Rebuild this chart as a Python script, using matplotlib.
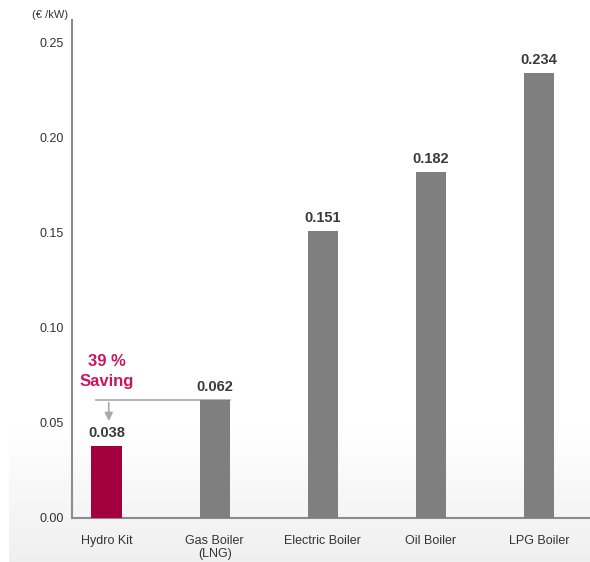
import numpy as np
import matplotlib.pyplot as plt

plt.rcParams['font.family'] = ['Liberation Sans', 'DejaVu Sans']

# data
categories = ['Hydro Kit', 'Gas Boiler\n(LNG)', 'Electric Boiler', 'Oil Boiler', 'LPG Boiler']
costs = [0.038, 0.062, 0.151, 0.182, 0.234]
bar_colors = ['#a3003f', '#7f7f7f', '#7f7f7f', '#7f7f7f', '#7f7f7f']
yticks = [0.00, 0.05, 0.10, 0.15, 0.20, 0.25]

fig = plt.figure(figsize=(5.9, 5.62), dpi=100)

# light grey photo-like background at the bottom
bg = fig.add_axes([0, 0, 1, 1], zorder=-10)
grad = np.linspace(0.13, 0.0, 100)[:, None] * np.ones((1, 50))
bg.imshow(grad, cmap='Greys', vmin=0, vmax=1, aspect='auto',
          extent=[0.015, 1, 0, 0.24], origin='lower')
bg.set_xlim(0, 1)
bg.set_ylim(0, 1)
bg.axis('off')

ax = fig.add_axes([72 / 590, 1 - 518 / 562, 518 / 590, 498 / 562])
ax.patch.set_alpha(0)

x = np.arange(len(categories))
ax.bar(x, costs, width=0.28, color=bar_colors, zorder=3)

for xi, v in zip(x, costs):
    ax.text(xi, v + 0.003, f'{v:.3f}', ha='center', va='bottom',
            fontsize=10.5, fontweight='bold', color='#3a3a3a')

# saving bracket
ax.plot([-0.1, 1.14], [costs[1], costs[1]], color='#a8a8a8', lw=1.2, zorder=2)
ax.annotate('', xy=(0.02, costs[0] + 0.0115), xytext=(0.02, costs[1]),
            arrowprops=dict(arrowstyle='-|>', color='#a8a8a8', lw=1.2, mutation_scale=12))
ax.text(0.0, 0.082, '39 %', ha='center', va='center', fontsize=12,
        fontweight='bold', color='#c8175d')
ax.text(0.0, 0.0715, 'Saving', ha='center', va='center', fontsize=12,
        fontweight='bold', color='#c8175d')

ax.set_xlim(-0.32, 4.47)
ax.set_ylim(0, 0.2616)
ax.set_yticks(yticks)
ax.set_yticklabels([f'{t:.2f}' for t in yticks], fontsize=9, color='#333333')
ax.set_xticks(x)
ax.set_xticklabels(categories, fontsize=9, color='#333333', va='top')
ax.tick_params(length=0, pad=6)
ax.tick_params(axis='x', pad=12)
for s in ['top', 'right']:
    ax.spines[s].set_visible(False)
for s in ['left', 'bottom']:
    ax.spines[s].set_color('#8c8c8c')
    ax.spines[s].set_linewidth(1.5)

fig.text(68 / 590, 1 - 15 / 562, '(€ /kW)', ha='right', va='center', fontsize=8, color='#333333')

fig.savefig('out.png', dpi=100)
